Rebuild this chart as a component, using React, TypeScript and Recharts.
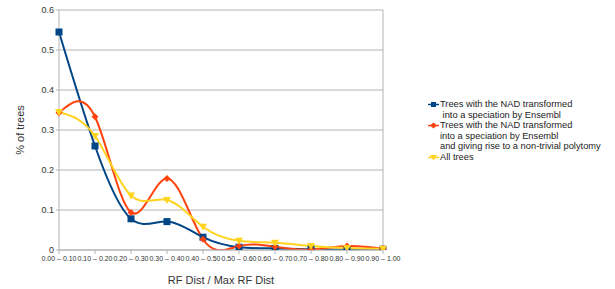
import { CartesianGrid, Line, LineChart, ReferenceLine, XAxis, YAxis } from "recharts";

const FONT = "'Liberation Sans', Arial, sans-serif";
const GRID = "#b3b3b3";
const BLUE = "#004586";
const RED = "#ff420e";
const YELLOW = "#ffd320";

const CATEGORIES = [
  "0.00 – 0.10",
  "0.10 – 0.20",
  "0.20 – 0.30",
  "0.30 – 0.40",
  "0.40 – 0.50",
  "0.50 – 0.60",
  "0.60 – 0.70",
  "0.70 – 0.80",
  "0.80 – 0.90",
  "0.90 – 1.00",
];
const NAD_SPECIATION = [0.545, 0.26, 0.078, 0.071, 0.032, 0.007, 0.004, 0.002, 0.001, 0.002];
const NAD_POLYTOMY = [0.343, 0.333, 0.094, 0.179, 0.027, 0.01, 0.008, 0.001, 0.01, 0.003];
const ALL_TREES = [0.345, 0.285, 0.136, 0.125, 0.058, 0.023, 0.018, 0.01, 0.005, 0.003];
const Y_TICKS = [0, 0.1, 0.2, 0.3, 0.4, 0.5, 0.6];

const data = CATEGORIES.map((c, i) => ({
  range: c,
  speciation: NAD_SPECIATION[i],
  polytomy: NAD_POLYTOMY[i],
  all: ALL_TREES[i],
}));

function squareDot(p: any) {
  return <rect key={p.index} x={p.cx - 3.5} y={p.cy - 3.5} width={7} height={7} fill={BLUE} />;
}

function diamondDot(p: any) {
  const { cx, cy } = p;
  return (
    <path
      key={p.index}
      d={`M${cx},${cy - 3.5} L${cx + 3.5},${cy} L${cx},${cy + 3.5} L${cx - 3.5},${cy} Z`}
      fill={RED}
    />
  );
}

function triangleDot(p: any) {
  const { cx, cy } = p;
  return (
    <path
      key={p.index}
      d={`M${cx - 4},${cy - 3} L${cx + 4},${cy - 3} L${cx},${cy + 4} Z`}
      fill={YELLOW}
    />
  );
}

function LegendMark({ color, kind }: { color: string; kind: string }) {
  let shape;
  if (kind === "square") shape = <rect x={3} y={2} width={5} height={5} fill={color} />;
  else if (kind === "diamond") shape = <path d="M5.5,1.5 L9,4.5 L5.5,7.5 L2,4.5 Z" fill={color} />;
  else shape = <path d="M2,2 L9,2 L5.5,7.5 Z" fill={color} />;
  return (
    <svg width={11} height={9} style={{ position: "absolute", left: 0, top: 1 }}>
      <line x1={0} y1={4.5} x2={11} y2={4.5} stroke={color} strokeWidth={1.5} />
      {shape}
    </svg>
  );
}

const LEGEND = [
  { color: BLUE, kind: "square", lines: ["Trees with the NAD transformed", " into a speciation by Ensembl"] },
  {
    color: RED,
    kind: "diamond",
    lines: [
      "Trees with the NAD transformed",
      "into a speciation by Ensembl",
      "and giving rise to a non-trivial polytomy",
    ],
  },
  { color: YELLOW, kind: "triangle", lines: ["All trees"] },
];

export default function App() {
  return (
    <div style={{ position: "absolute", left: 0, top: 0, width: 615, height: 289, background: "#fff" }}>
      <LineChart
        width={615}
        height={289}
        data={data}
        margin={{ top: 10, right: 232, bottom: 0, left: 0 }}
        style={{ fontFamily: FONT }}
      >
        <CartesianGrid vertical={false} stroke={GRID} />
        <XAxis
          dataKey="range"
          height={39}
          interval={0}
          stroke={GRID}
          tickSize={4}
          tickMargin={2}
          tick={{ fontSize: 7, fill: "#333" }}
          label={{ value: "RF Dist / Max RF Dist", position: "insideBottom", offset: 5, fontSize: 11, fill: "#333" }}
        />
        <YAxis
          width={59}
          domain={[0, 0.6]}
          ticks={Y_TICKS}
          allowDataOverflow
          stroke={GRID}
          tickSize={3}
          tickMargin={2}
          tick={{ fontSize: 9, fill: "#333" }}
          label={{
            value: "% of trees",
            angle: -90,
            position: "insideLeft",
            offset: 20,
            fontSize: 11,
            fill: "#333",
            style: { textAnchor: "middle" },
          }}
        />
        <ReferenceLine x={CATEGORIES[CATEGORIES.length - 1]} stroke={GRID} />
        <Line
          type="natural"
          dataKey="speciation"
          stroke={BLUE}
          strokeWidth={2}
          dot={squareDot}
          isAnimationActive={false}
        />
        <Line
          type="natural"
          dataKey="polytomy"
          stroke={RED}
          strokeWidth={2}
          dot={diamondDot}
          isAnimationActive={false}
        />
        <Line
          type="natural"
          dataKey="all"
          stroke={YELLOW}
          strokeWidth={2}
          dot={triangleDot}
          isAnimationActive={false}
        />
      </LineChart>
      <div
        style={{
          position: "absolute",
          left: 428,
          top: 99,
          fontFamily: FONT,
          fontSize: 9.3,
          lineHeight: "10.5px",
          color: "#222",
        }}
      >
        {LEGEND.map((item) => (
          <div key={item.color} style={{ position: "relative", paddingLeft: 12 }}>
            <LegendMark color={item.color} kind={item.kind} />
            {item.lines.map((l) => (
              <div key={l} style={{ whiteSpace: "pre" }}>
                {l}
              </div>
            ))}
          </div>
        ))}
      </div>
    </div>
  );
}
